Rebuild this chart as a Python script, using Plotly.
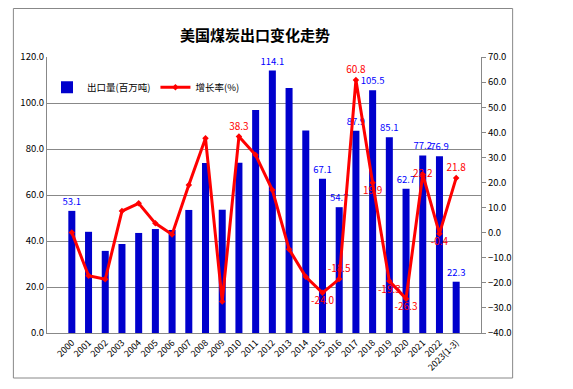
import plotly.graph_objects as go

years = ["2000","2001","2002","2003","2004","2005","2006","2007","2008","2009","2010","2011",
         "2012","2013","2014","2015","2016","2017","2018","2019","2020","2021","2022","2023(1-3)"]
exports = [53.1, 44.0, 35.7, 38.7, 43.5, 45.2, 44.8, 53.5, 73.9, 53.6, 74.0, 97.0,
           114.1, 106.5, 88.0, 67.1, 54.7, 87.9, 105.5, 85.1, 62.7, 77.2, 76.9, 22.3]
growth = [0.1, -17.2, -18.6, 8.6, 11.7, 3.7, -0.7, 19.0, 37.6, -27.4, 38.3, 30.9,
          17.0, -6.6, -17.6, -24.0, -18.5, 60.8, 19.9, -19.3, -26.3, 23.2, -0.4, 21.8]
bar_labeled = {"2000", "2012", "2015", "2016", "2017", "2018", "2019", "2020", "2021", "2022", "2023(1-3)"}
line_label_pos = {"2010": "top center", "2015": "bottom center", "2016": "top center",
                  "2017": "top center", "2018": "bottom center", "2019": "bottom center",
                  "2020": "bottom center", "2021": "middle center", "2022": "bottom center",
                  "2023(1-3)": "top center"}

bar_text = [f"{v:.1f}" if y in bar_labeled else "" for y, v in zip(years, exports)]
line_text = [f"{v:.1f}" if y in line_label_pos else "" for y, v in zip(years, growth)]
line_pos = [line_label_pos.get(y, "top center") for y in years]

FONT = "Noto Sans CJK SC, Liberation Sans, sans-serif"

# page body has an 8px default margin; layout is offset to compensate
L, T = 34, 49
W, H = 573, 389
PW, PH = 439, 276

fig = go.Figure()
fig.add_trace(go.Bar(
    x=years, y=exports, name="出口量(百万吨)",
    marker=dict(color="#0000CC", line=dict(width=0)),
    text=bar_text, textposition="outside", cliponaxis=False, constraintext="none",
    textfont=dict(color="#0000FF", size=9.5, family=FONT),
))
fig.add_trace(go.Scatter(
    x=years, y=growth, name="增长率(%)", yaxis="y2",
    mode="lines+markers+text",
    line=dict(color="#FF0000", width=3),
    marker=dict(color="#FF0000", size=5, symbol="diamond"),
    text=line_text, textposition=line_pos, cliponaxis=False,
    textfont=dict(color="#FF0000", size=10, family=FONT),
))

fig.update_layout(
    width=W, height=H,
    margin=dict(l=L, r=W - L - PW, t=T, b=H - T - PH),
    paper_bgcolor="white", plot_bgcolor="white",
    font=dict(family=FONT, size=9, color="#000000"),
    title=dict(text="<b>美国煤炭出口变化走势</b>", x=(255 - 8) / W, xanchor="center",
               y=1 - (36 - 8) / H, yanchor="middle",
               font=dict(size=15, family=FONT, color="#000000")),
    bargap=0.58,
    showlegend=True,
    legend=dict(orientation="h", x=0.0, y=0.89, xanchor="left", yanchor="middle",
                bgcolor="rgba(0,0,0,0)", font=dict(size=9.5, family=FONT),
                traceorder="normal"),
    xaxis=dict(type="category", tickangle=-45, tickfont=dict(size=9),
               showline=True, linecolor="#888888", linewidth=1, ticks="", showgrid=False),
    yaxis=dict(range=[0, 120], dtick=20, tickformat=".1f", showgrid=True,
               gridcolor="#888888", gridwidth=1, showline=True, linecolor="#888888",
               tickfont=dict(size=9.5), zeroline=False, ticks=""),
    yaxis2=dict(range=[-40, 70], dtick=10, tickformat=".1f", overlaying="y", side="right",
                showgrid=False, zeroline=False, showline=True, linecolor="#888888",
                ticks="outside", ticklen=4, tickcolor="#888888", tickfont=dict(size=9.5)),
    shapes=[dict(type="rect", xref="paper", yref="paper",
                 x0=(0 - L) / PW, x1=(505 - L) / PW,
                 y0=(T + PH - 370) / PH, y1=(T + PH - 0.5) / PH,
                 line=dict(color="#888888", width=1), fillcolor="rgba(0,0,0,0)", layer="below")],
)

fig.write_html("out.html")
